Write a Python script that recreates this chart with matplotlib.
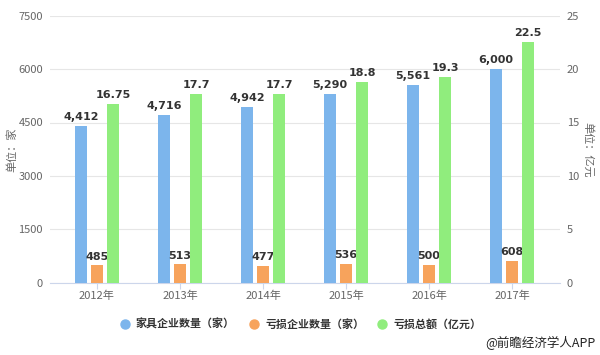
import matplotlib
matplotlib.use("Agg")
import matplotlib.pyplot as plt
import numpy as np
from matplotlib.lines import Line2D

plt.rcParams['font.family'] = ['Noto Sans CJK SC', 'DejaVu Sans']

years = ['2012年', '2013年', '2014年', '2015年', '2016年', '2017年']
firms = [4412, 4716, 4942, 5290, 5561, 6000]
loss_firms = [485, 513, 477, 536, 500, 608]
loss_total = [16.75, 17.7, 17.7, 18.8, 19.3, 22.5]
loss_total_labels = ['16.75', '17.7', '17.7', '18.8', '19.3', '22.5']
series_names = ['家具企业数量（家）', '亏损企业数量（家）', '亏损总额（亿元）']
colors = ['#7cb5ec', '#f7a35c', '#90ed7d']

W, H = 600, 355
fig = plt.figure(figsize=(W / 100, H / 100), dpi=100)
ax = fig.add_axes([50 / W, (H - 282.7) / H, 510 / W, (282.7 - 15.7) / H])
ax2 = ax.twinx()

x = np.arange(len(years))
bw = 0.15
off = 0.193

ax.bar(x - off, firms, bw, color=colors[0], zorder=3)
ax.bar(x, loss_firms, bw, color=colors[1], zorder=3)
ax2.bar(x + off, loss_total, bw, color=colors[2], zorder=3)

lab_kw = dict(ha='center', va='bottom', fontsize=8, fontweight='bold', color='#333333', family=['DejaVu Sans'])
for i in range(len(years)):
    ax.text(x[i] - off, firms[i] + 110, f'{firms[i]:,}', **lab_kw)
    ax.text(x[i], loss_firms[i] + 110, f'{loss_firms[i]:,}', **lab_kw)
    ax2.text(x[i] + off, loss_total[i] + 0.37, loss_total_labels[i], **lab_kw)

ax.set_xlim(-0.566, 5.578)
ax.set_ylim(0, 7500)
ax2.set_ylim(0, 25)
ax.set_yticks(np.arange(0, 7501, 1500))
ax2.set_yticks(np.arange(0, 26, 5))
ax.set_xticks(x)
ax.set_xticklabels(years)

ax.grid(axis='y', color='#e6e6e6', linewidth=0.8, zorder=0)
ax.set_axisbelow(True)
for a in (ax, ax2):
    for s in a.spines.values():
        s.set_visible(False)
ax.spines['bottom'].set_visible(True)
ax.spines['bottom'].set_color('#ccd6eb')

ax.tick_params(axis='y', length=0, labelsize=8, labelcolor='#666666', pad=5)
ax2.tick_params(axis='y', length=0, labelsize=8, labelcolor='#666666', pad=5)
ax.tick_params(axis='x', length=4, color='#ccd6eb', labelsize=8, labelcolor='#666666', pad=2)

fig.text(12 / W, 1 - 150 / H, '单位：家', rotation=90, ha='center', va='center', fontsize=8, color='#666666')
fig.text(588 / W, 1 - 150 / H, '单位：亿元', rotation=-90, ha='center', va='center', fontsize=8, color='#666666')

# legend, drawn item by item
leg_x = [125, 254, 382]
leg_y = 1 - 324 / H
for px, c, name in zip(leg_x, colors, series_names):
    fig.add_artist(Line2D([px / W], [leg_y], marker='o', linestyle='none', markersize=6.5,
                          markerfacecolor=c, markeredgecolor=c, transform=fig.transFigure))
    fig.text((px + 11) / W, leg_y, name, ha='left', va='center', fontsize=7.9, fontweight='bold', color='#333333')

fig.text(595 / W, 1 - 343 / H, '@前瞻经济学人APP', ha='right', va='center', fontsize=9, color='#222222')

fig.savefig('out.png', dpi=100)
